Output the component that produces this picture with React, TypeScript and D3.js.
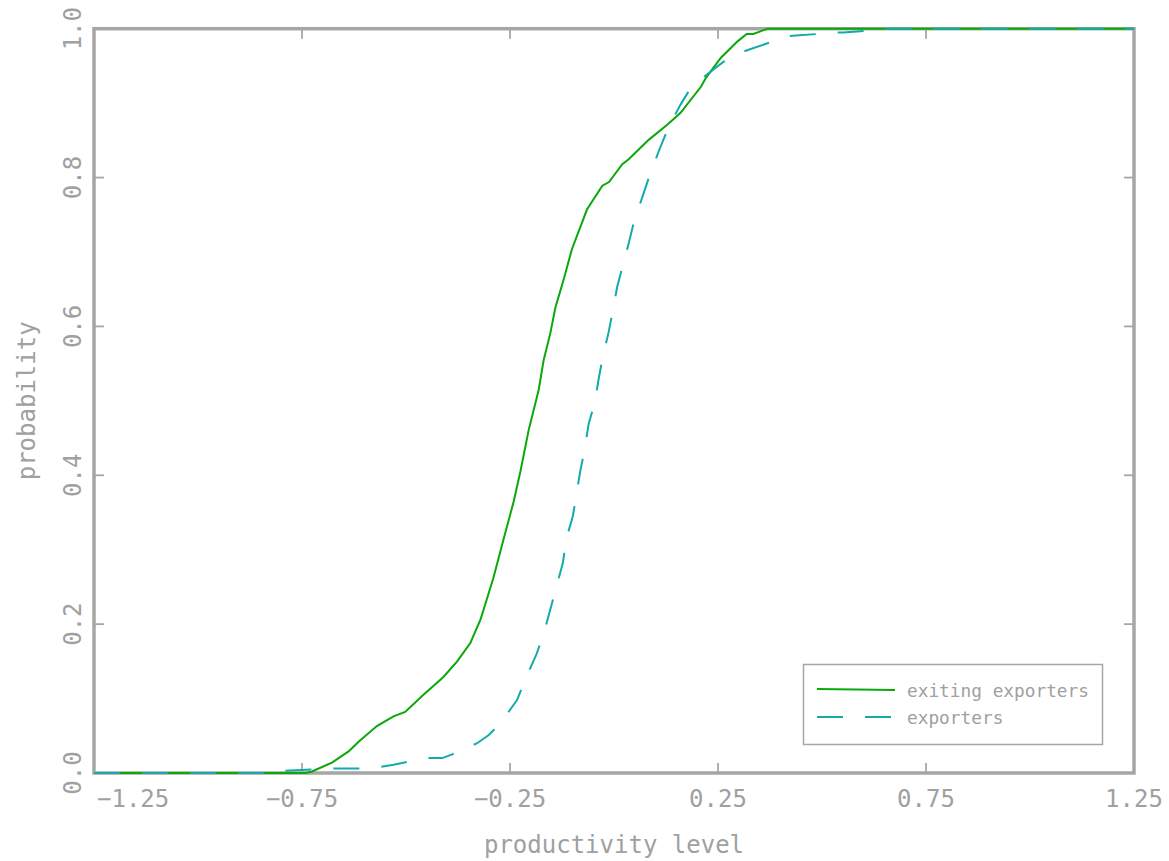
import React from "react";
import * as d3 from "d3";

const xTicks = [-1.25, -0.75, -0.25, 0.25, 0.75, 1.25];
const xTickLabels = ["\u22121.25", "\u22120.75", "\u22120.25", "0.25", "0.75", "1.25"];
const yTicks = [0, 0.2, 0.4, 0.6, 0.8, 1.0];
const yTickLabels = ["0.0", "0.2", "0.4", "0.6", "0.8", "1.0"];

const exitingX = [-1.25, -0.742, -0.726, -0.678, -0.638, -0.614, -0.57, -0.53, -0.502, -0.458, -0.41, -0.377, -0.345, -0.321, -0.29, -0.265, -0.241, -0.225, -0.205, -0.181, -0.169, -0.153, -0.141, -0.121, -0.101, -0.065, -0.028, -0.012, 0.02, 0.036, 0.084, 0.128, 0.16, 0.209, 0.221, 0.257, 0.297, 0.319, 0.335, 0.369, 1.25];
const exitingY = [0, 0, 0.002, 0.014, 0.029, 0.042, 0.063, 0.076, 0.082, 0.105, 0.129, 0.15, 0.175, 0.206, 0.262, 0.315, 0.365, 0.405, 0.461, 0.515, 0.555, 0.591, 0.625, 0.663, 0.704, 0.757, 0.789, 0.794, 0.818, 0.825, 0.851, 0.871, 0.887, 0.922, 0.934, 0.961, 0.983, 0.993, 0.993, 1.0, 1.0];

const exportersX = [-1.25, -0.8, -0.79, -0.678, -0.614, -0.562, -0.53, -0.504, -0.446, -0.413, -0.389, -0.329, -0.301, -0.273, -0.233, -0.211, -0.186, -0.167, -0.123, -0.114, -0.099, -0.09, -0.081, -0.07, -0.061, -0.046, -0.037, -0.027, -0.013, -0.003, 0.008, 0.036, 0.049, 0.069, 0.088, 0.108, 0.132, 0.16, 0.184, 0.204, 0.262, 0.296, 0.32, 0.377, 0.417, 0.437, 0.493, 0.521, 0.551, 0.603, 0.641, 0.661, 1.25];
const exportersY = [0, 0, 0.003, 0.006, 0.006, 0.008, 0.011, 0.014, 0.02, 0.02, 0.025, 0.04, 0.051, 0.067, 0.098, 0.129, 0.16, 0.191, 0.282, 0.316, 0.345, 0.375, 0.406, 0.436, 0.469, 0.498, 0.529, 0.559, 0.592, 0.621, 0.654, 0.713, 0.743, 0.775, 0.807, 0.836, 0.869, 0.898, 0.92, 0.93, 0.955, 0.966, 0.971, 0.982, 0.99, 0.991, 0.993, 0.995, 0.995, 0.997, 0.999, 1.0, 1.0];

const seriesNames = ["exiting exporters", "exporters"];

const GRAY = "#a6a6a6";
const TEXT = "#a0a0a0";
const GREEN = "#0aa80a";
const CYAN = "#12aaaa";
const FONT = "'DejaVu Sans Mono', monospace";

export default function App() {
  const left = 94, right = 1134, top = 28.7, bottom = 773;
  const x = d3.scaleLinear().domain([-1.25, 1.25]).range([left, right]);
  const y = d3.scaleLinear().domain([0, 1]).range([bottom, top]);
  const line = d3.line<[number, number]>().x(d => x(d[0])).y(d => y(d[1]));
  const g = line(exitingX.map((v, i) => [v, exitingY[i]]) as [number, number][]) || "";
  const c = line(exportersX.map((v, i) => [v, exportersY[i]]) as [number, number][]) || "";
  const tl = 10;

  return (
    <svg width={1169} height={861} style={{ position: "absolute", left: 0, top: 0, background: "#fff" }}>
      {/* frame */}
      <rect x={left} y={top} width={right - left} height={bottom - top} fill="none" stroke={GRAY} strokeWidth={3.5} />
      {/* ticks */}
      {xTicks.map((t, i) => (
        <g key={"xt" + i}>
          <line x1={x(t)} x2={x(t)} y1={bottom} y2={bottom - tl} stroke={GRAY} strokeWidth={1.8} />
          <line x1={x(t)} x2={x(t)} y1={top} y2={top + tl} stroke={GRAY} strokeWidth={1.8} />
          <text x={i === 0 ? x(t) + 3 : x(t)} y={807} textAnchor={i === 0 ? "start" : "middle"} fontFamily={FONT} fontSize={24} fill={TEXT}>{xTickLabels[i]}</text>
        </g>
      ))}
      {yTicks.map((t, i) => (
        <g key={"yt" + i}>
          <line x1={left} x2={left + tl} y1={y(t)} y2={y(t)} stroke={GRAY} strokeWidth={1.8} />
          <line x1={right} x2={right - tl} y1={y(t)} y2={y(t)} stroke={GRAY} strokeWidth={1.8} />
          <text transform={`translate(81,${y(t)}) rotate(-90)`} textAnchor="middle" fontFamily={FONT} fontSize={24} fill={TEXT}>{yTickLabels[i]}</text>
        </g>
      ))}
      {/* series */}
      <path d={g} fill="none" stroke={GREEN} strokeWidth={2} />
      <path d={c} fill="none" stroke={CYAN} strokeWidth={2} strokeDasharray="26 22" />
      {/* axis titles */}
      <text x={(left + right) / 2} y={853} textAnchor="middle" fontFamily={FONT} fontSize={24} fill={TEXT}>productivity level</text>
      <text transform={`translate(35,${(top + bottom) / 2}) rotate(-90)`} textAnchor="middle" fontFamily={FONT} fontSize={24} fill={TEXT}>probability</text>
      {/* legend */}
      <rect x={803.5} y={664.5} width={299} height={80} fill="#fff" stroke={GRAY} strokeWidth={1.5} />
      <line x1={817} x2={895} y1={689} y2={690} stroke={GREEN} strokeWidth={2} />
      <text x={907} y={697} fontFamily={FONT} fontSize={17.8} fill={TEXT}>{seriesNames[0]}</text>
      <line x1={817} x2={891} y1={717} y2={717} stroke={CYAN} strokeWidth={2} strokeDasharray="26 22" />
      <text x={907} y={724} fontFamily={FONT} fontSize={17.8} fill={TEXT}>{seriesNames[1]}</text>
    </svg>
  );
}
